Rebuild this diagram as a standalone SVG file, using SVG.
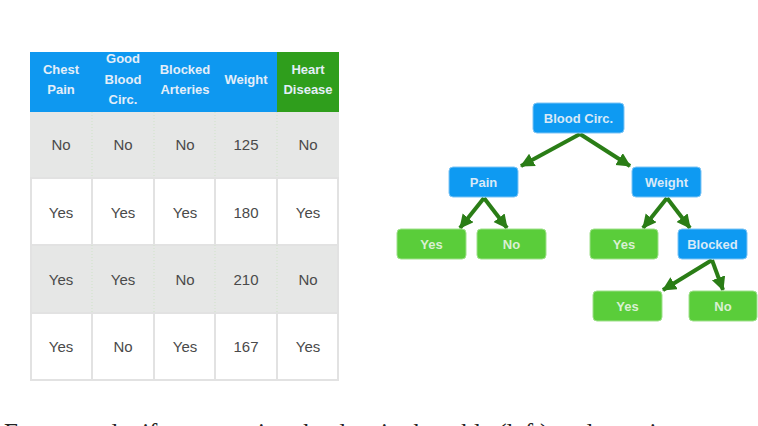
<svg xmlns="http://www.w3.org/2000/svg" width="758" height="426" viewBox="0 0 758 426">
<style>
.hd{font-family:"Liberation Sans",Arial,sans-serif;font-size:13px;fill:#e4eef8;text-anchor:middle;font-weight:bold}
.cell{font-family:"Liberation Sans",Arial,sans-serif;font-size:15px;fill:#4a4a4a;text-anchor:middle}
.nb rect{fill:#0e9af2;stroke:#7cc4f5;stroke-width:1}
.ng rect{fill:#5acd3a;stroke:#9ee08a;stroke-width:1}
.nt{font-family:"Liberation Sans",Arial,sans-serif;font-size:13px;text-anchor:middle;font-weight:bold}
.nb text{fill:#d8e9f7}
.ng text{fill:#d9f0d2}
.edge{stroke:#2a7d16;stroke-width:4;fill:none;marker-end:url(#ah)}
.grid{stroke:#e2e2e2;stroke-width:2;fill:none}
.caption{font-family:"Liberation Serif","Times New Roman",serif;font-size:25px;fill:#222}
</style>
<defs>
<marker id="ah" markerUnits="userSpaceOnUse" markerWidth="16" markerHeight="16" refX="13" refY="7" orient="auto">
<path d="M0,0 L14,7 L0,14 Z" fill="#2a7d16"/>
</marker>
</defs>
<rect width="758" height="426" fill="#ffffff"/>

<g id="table">
<rect x="30" y="52" width="247" height="60" fill="#0e98f0"/>
<rect x="277" y="52" width="62" height="60" fill="#2f9e1c"/>
<rect x="30" y="112" width="309" height="66" fill="#e6e7e6"/>
<rect x="30" y="178" width="309" height="67" fill="#ffffff"/>
<rect x="30" y="245" width="309" height="68" fill="#e6e7e6"/>
<rect x="30" y="313" width="309" height="67" fill="#ffffff"/>
<path class="grid" d="M31,178 V380 H338 V178 M92,178 V245 M154,178 V245 M215,178 V245 M277,178 V245 M92,313 V380 M154,313 V380 M215,313 V380 M277,313 V380 M30,178 H339 M30,245 H339 M30,313 H339"/>
<path d="M92,112 V178 M154,112 V178 M215,112 V178 M277,112 V178 M92,245 V313 M154,245 V313 M215,245 V313 M277,245 V313" stroke="#cfe3c8" stroke-width="1" stroke-dasharray="1,2" fill="none"/>
<text class="hd" x="61" y="74">Chest</text>
<text class="hd" x="61" y="94">Pain</text>
<text class="hd" x="123" y="63">Good</text>
<text class="hd" x="123" y="84">Blood</text>
<text class="hd" x="123" y="104">Circ.</text>
<text class="hd" x="185" y="74">Blocked</text>
<text class="hd" x="185" y="94">Arteries</text>
<text class="hd" x="246" y="84">Weight</text>
<text class="hd" x="308" y="74">Heart</text>
<text class="hd" x="308" y="94">Disease</text>
<text class="cell" x="61" y="150">No</text>
<text class="cell" x="123" y="150">No</text>
<text class="cell" x="185" y="150">No</text>
<text class="cell" x="246" y="150">125</text>
<text class="cell" x="308" y="150">No</text>
<text class="cell" x="61" y="218">Yes</text>
<text class="cell" x="123" y="218">Yes</text>
<text class="cell" x="185" y="218">Yes</text>
<text class="cell" x="246" y="218">180</text>
<text class="cell" x="308" y="218">Yes</text>
<text class="cell" x="61" y="285">Yes</text>
<text class="cell" x="123" y="285">Yes</text>
<text class="cell" x="185" y="285">No</text>
<text class="cell" x="246" y="285">210</text>
<text class="cell" x="308" y="285">No</text>
<text class="cell" x="61" y="352">Yes</text>
<text class="cell" x="123" y="352">No</text>
<text class="cell" x="185" y="352">Yes</text>
<text class="cell" x="246" y="352">167</text>
<text class="cell" x="308" y="352">Yes</text>
</g>

<g id="connectors">
<line class="edge" x1="580" y1="134" x2="521" y2="166"/>
<line class="edge" x1="580" y1="134" x2="630" y2="166"/>
<line class="edge" x1="484" y1="198" x2="460" y2="228"/>
<line class="edge" x1="484" y1="198" x2="507" y2="228"/>
<line class="edge" x1="667" y1="198" x2="643" y2="228"/>
<line class="edge" x1="667" y1="198" x2="690" y2="228"/>
<line class="edge" x1="712" y1="260" x2="663" y2="290"/>
<line class="edge" x1="712" y1="260" x2="723" y2="290"/>
</g>

<g id="n-blood" class="nb"><rect x="533" y="103" width="91" height="30" rx="4"/><text class="nt" x="578.5" y="123">Blood Circ.</text></g>
<g id="n-pain" class="nb"><rect x="449" y="167" width="69" height="30" rx="4"/><text class="nt" x="483.5" y="187">Pain</text></g>
<g id="n-weight" class="nb"><rect x="632" y="167" width="69" height="30" rx="4"/><text class="nt" x="666.5" y="187">Weight</text></g>
<g id="n-yes1" class="ng"><rect x="397" y="229" width="69" height="30" rx="4"/><text class="nt" x="431.5" y="249">Yes</text></g>
<g id="n-no1" class="ng"><rect x="477" y="229" width="69" height="30" rx="4"/><text class="nt" x="511.5" y="249">No</text></g>
<g id="n-yes2" class="ng"><rect x="590" y="229" width="68" height="30" rx="4"/><text class="nt" x="624" y="249">Yes</text></g>
<g id="n-blocked" class="nb"><rect x="678" y="229" width="69" height="30" rx="4"/><text class="nt" x="712.5" y="249">Blocked</text></g>
<g id="n-yes3" class="ng"><rect x="593" y="291" width="69" height="30" rx="4"/><text class="nt" x="627.5" y="311">Yes</text></g>
<g id="n-no3" class="ng"><rect x="689" y="291" width="68" height="30" rx="4"/><text class="nt" x="723" y="311">No</text></g>

<text class="caption" x="4" y="441">For example, if we are using the data in the table (left) to determine</text>
</svg>
